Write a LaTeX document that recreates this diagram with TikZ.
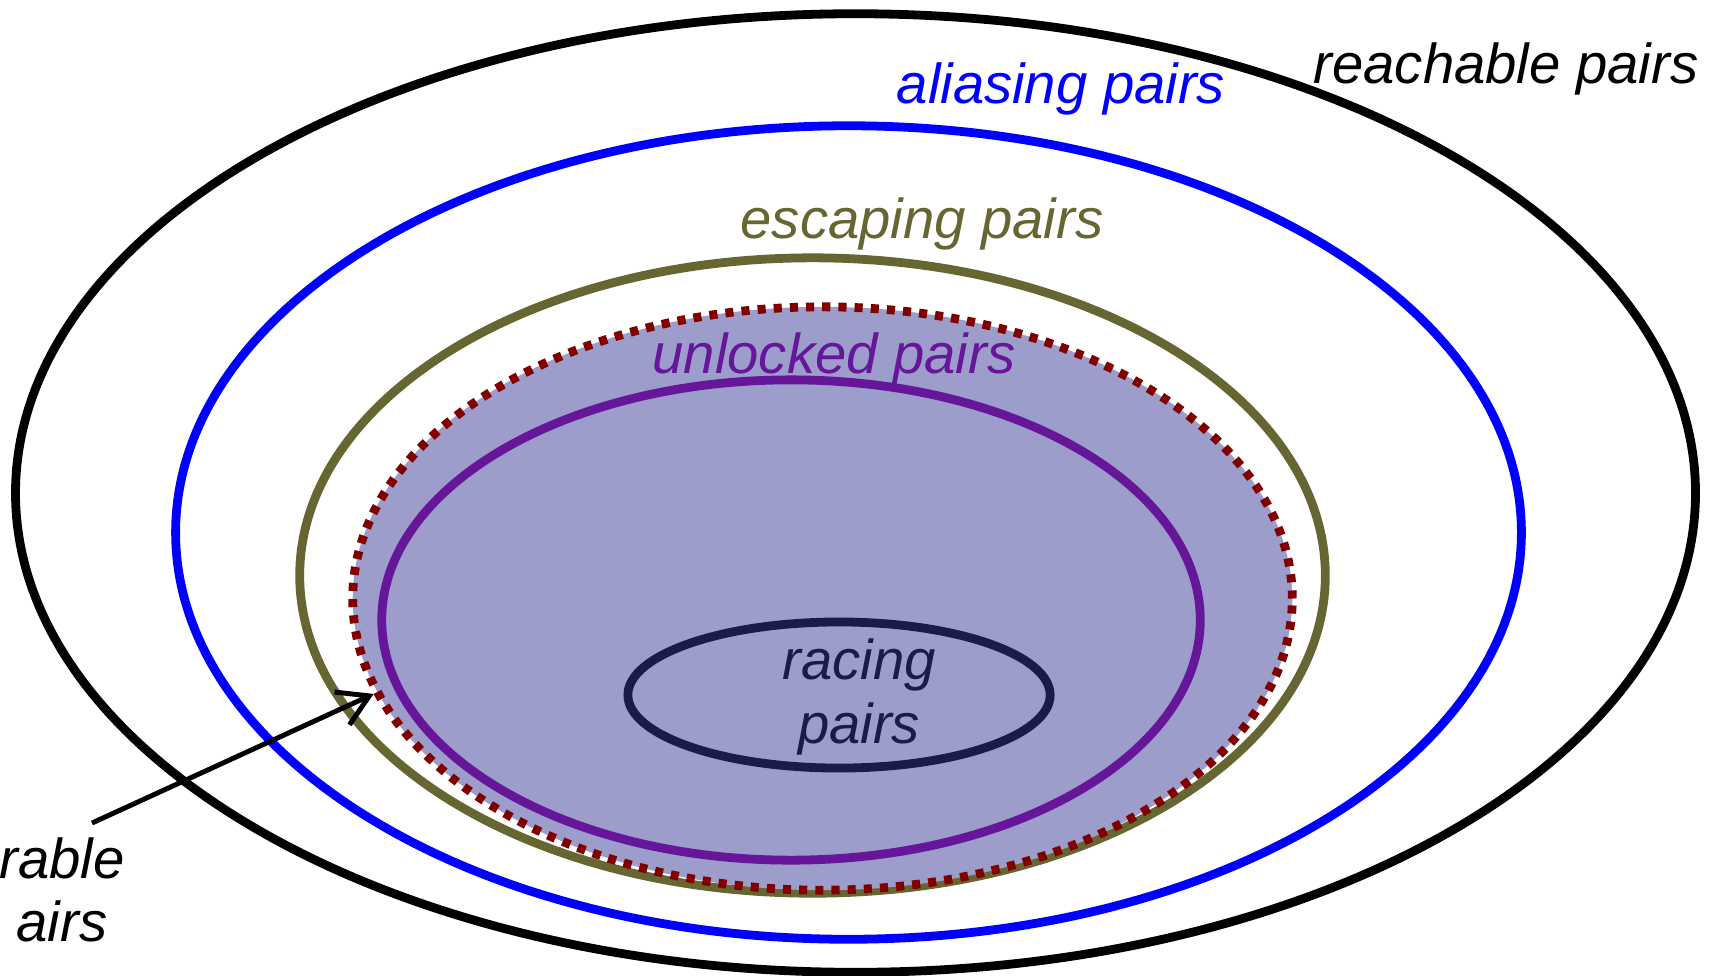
\documentclass[tikz,border=0pt]{standalone}
\usepackage{fontspec}
\setmainfont{Liberation Sans}
\usetikzlibrary{shapes.geometric,arrows.meta}

\definecolor{olive_set}{RGB}{102,102,51}
\definecolor{fill_set}{RGB}{157,157,204}
\definecolor{dot_red}{RGB}{128,0,0}
\definecolor{unlock_purple}{RGB}{102,22,153}
\definecolor{race_navy}{RGB}{26,26,77}

\begin{document}
\begin{tikzpicture}[
    x=0.01cm, y=-0.01cm,
    set/.style={ellipse, draw, inner sep=0pt, line width=2.5pt},
    lbl/.style={font=\itshape\fontsize{16}{18}\selectfont, inner sep=0pt, anchor=base},
    arrow/.style={-{Straight Barb[length=3mm,width=3.6mm]}, line width=1.4pt}
]
\useasboundingbox (0,0) rectangle (1716,975);

% Nested sets, outermost first
\node[set, minimum width=16.79cm, minimum height=9.58cm] (reach) at (855.5,493) {};
\node[set, draw=blue, minimum width=13.45cm, minimum height=8.13cm] (alias) at (848.5,532.5) {};
\node[set, draw=olive_set, minimum width=10.25cm, minimum height=6.35cm] (escape) at (812.5,575.5) {};
\node[set, draw=dot_red, fill=fill_set, dash pattern=on 2.3pt off 2.3pt, minimum width=9.39cm, minimum height=5.83cm] (dot_set) at (822.5,598.5) {};
\node[set, draw=unlock_purple, minimum width=8.18cm, minimum height=4.80cm] (unlock) at (791,620) {};
\node[set, draw=race_navy, minimum width=4.22cm, minimum height=1.46cm] (race) at (839,695) {};

% Set labels
\node[lbl] (reach_lbl) at (1506,83) {reachable pairs};
\node[lbl, text=blue] (alias_lbl) at (1061,103) {aliasing pairs};
\node[lbl, text=olive_set] (escape_lbl) at (922,238) {escaping pairs};
\node[lbl, text=unlock_purple] (unlock_lbl) at (834,373) {unlocked pairs};
\node[lbl, anchor=center, align=center, text=race_navy] (race_lbl) at (859,697) {racing\\pairs};

% Label at the left edge, with its arrow
\node[lbl, anchor=center, align=center] (dot_lbl) at (62,890) {rable\\airs};
\coordinate (dot_tail) at (92,823);
\draw[arrow] (dot_tail) -- (dot_set.192);

\end{tikzpicture}
\end{document}
